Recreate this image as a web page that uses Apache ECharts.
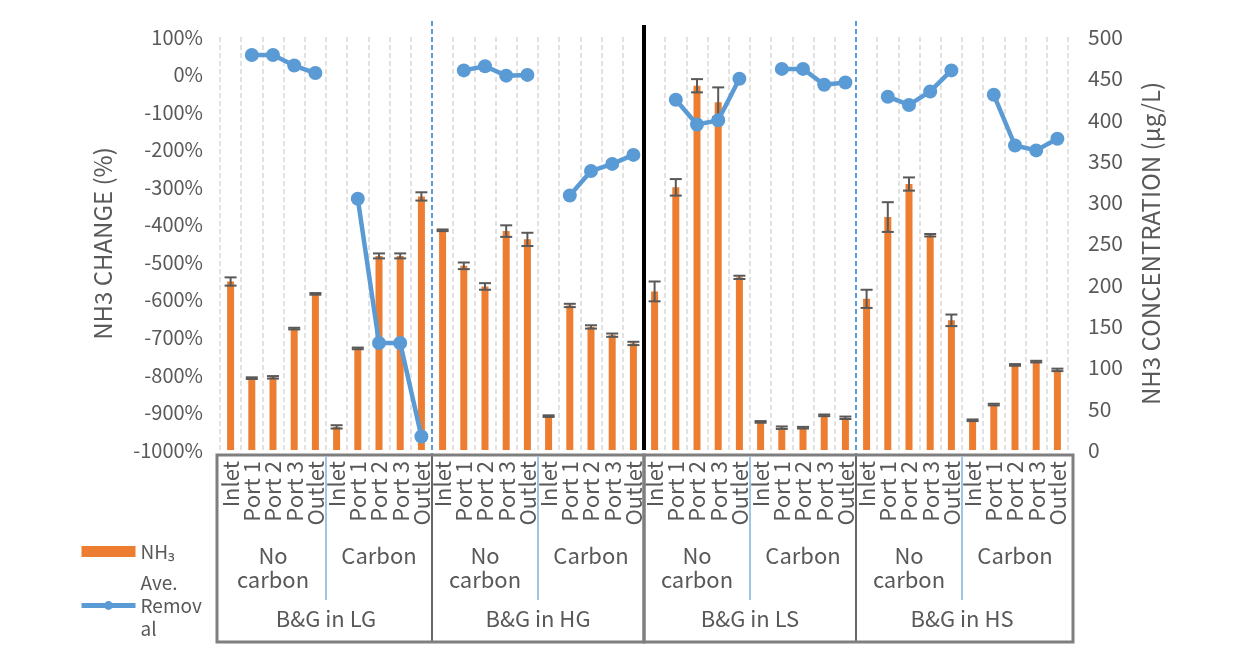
<!DOCTYPE html>
<html>
<head>
<meta charset="utf-8">
<title>NH3 change</title>
<script src="https://cdn.jsdelivr.net/npm/echarts@6/dist/echarts.min.js"></script>
<style>
  html, body { margin: 0; padding: 0; background: #fff; }
  #chart { width: 1250px; height: 672px; }
</style>
</head>
<body>
<div id="chart"></div>
<script>
// 采样点 / 处理 / 组
const ports = ['Inlet', 'Port 1', 'Port 2', 'Port 3', 'Outlet'];
const treatments = ['No\ncarbon', 'Carbon'];
const groups = ['B&G in LG', 'B&G in HG', 'B&G in LS', 'B&G in HS'];

// 40 个类目 = 4 组 x 2 处理 x 5 采样点
const categories = [];
const subLabels = [];
groups.forEach(() => treatments.forEach(t => { subLabels.push(t); ports.forEach(p => categories.push(p)); }));

// NH3 浓度 (μg/L)，右轴
const nh3 = [
  204, 87, 88, 147, 189,   28, 123, 235, 235, 307,
  266, 223, 198, 265, 255,  41, 175, 149, 139, 129,
  192, 318, 441, 421, 209,  34, 27, 27, 42, 39,
  183, 282, 322, 260, 157,  36, 55, 103, 107, 97
];
// 误差
const nh3Err = [
  5, 1, 1.5, 1, 1,   2, 1, 3, 3, 5,
  1, 4, 4, 7, 8,     1, 2, 2, 2, 2,
  12, 10, 8, 18, 2,  1, 1.5, 1, 1, 1.5,
  11, 18, 8, 1.5, 7, 1, 1, 1, 1, 1.5
];
// 平均去除率 (%)，左轴，Inlet 没有值
const removal = [
  null, 52, 52, 24, 4,       null, -331, -715, -715, -964,
  null, 11, 22, -3, -1,      null, -322, -257, -238, -214,
  null, -67, -133, -122, -11, null, 15, 15, -27, -21,
  null, -59, -81, -45, 11,   null, -54, -189, -202, -171
];

// 轴刻度
const pctAxis = { min: -1000, max: 100, step: 100 };
const concAxis = { min: 0, max: 500, step: 50 };

const font = "'Noto Sans CJK SC', 'Noto Sans', sans-serif";
const grey = '#595959';

let chart = echarts.init(document.getElementById('chart'));

chart.setOption({
  animation: false,
  textStyle: { fontFamily: font },
  grid: { left: 220, right: 182, top: 37, bottom: 222 },
  legend: {
    orient: 'vertical',
    left: 79,
    top: 540,
    padding: 0,
    itemGap: 8,
    itemWidth: 54,
    itemHeight: 11,
    lineStyle: { width: 5 },
    textStyle: { color: grey, fontSize: 19, lineHeight: 23, fontFamily: font },
    formatter: name => name === 'Ave. Removal' ? 'Ave.\nRemov\nal' : name,
    data: [{ name: 'NH₃', icon: 'rect' }, { name: 'Ave. Removal' }]
  },
  xAxis: [
    {
      type: 'category',
      data: categories,
      position: 'bottom',
      axisLine: { show: false },
      axisTick: { show: false },
      axisLabel: { interval: 0, rotate: 90, margin: 11, color: grey, fontSize: 22, fontFamily: font },
      splitLine: { show: true, interval: 0, lineStyle: { color: '#D9D9D9', width: 1.5, type: [5, 3] } }
    },
    {
      type: 'category',
      data: subLabels,
      position: 'bottom',
      offset: 86,
      axisLine: { show: false },
      axisTick: { show: false },
      axisLabel: { interval: 0, margin: 8, color: grey, fontSize: 22, lineHeight: 24, fontFamily: font }
    },
    {
      type: 'category',
      data: groups,
      position: 'bottom',
      offset: 149,
      axisLine: { show: false },
      axisTick: { show: false },
      axisLabel: { interval: 0, margin: 8, color: grey, fontSize: 22, lineHeight: 24, fontFamily: font }
    },
    // 隐藏的数值轴，用来定位分隔线
    { type: 'value', min: 0, max: categories.length, show: false }
  ],
  yAxis: [
    {
      type: 'value',
      min: pctAxis.min, max: pctAxis.max, interval: pctAxis.step,
      name: 'NH3 CHANGE (%)',
      nameLocation: 'middle',
      nameGap: 105,
      nameTextStyle: { color: grey, fontSize: 24, fontFamily: font },
      axisLine: { show: false },
      axisTick: { show: false },
      splitLine: { show: false },
      axisLabel: { formatter: v => v + '%', margin: 17, color: grey, fontSize: 20, fontFamily: font }
    },
    {
      type: 'value',
      position: 'right',
      min: concAxis.min, max: concAxis.max, interval: concAxis.step,
      name: 'NH3 CONCENTRATION (μg/L)',
      nameLocation: 'middle',
      nameGap: 71,
      nameTextStyle: { color: grey, fontSize: 24, fontFamily: font },
      axisLine: { show: false },
      axisTick: { show: false },
      splitLine: { show: false },
      axisLabel: { margin: 20, color: grey, fontSize: 21, fontFamily: font }
    }
  ],
  series: [
    {
      name: 'NH₃',
      type: 'bar',
      xAxisIndex: 0,
      yAxisIndex: 1,
      barWidth: 7,
      itemStyle: { color: '#ED7D31' },
      data: nh3
    },
    {
      name: 'err',
      type: 'custom',
      xAxisIndex: 0,
      yAxisIndex: 1,
      z: 3,
      encode: { x: 0, y: 1 },
      renderItem: (params, api) => {
        const i = api.value(0), v = api.value(1), e = api.value(2);
        const hi = api.coord([i, v + e]);
        const lo = api.coord([i, v - e]);
        const w = 6;
        const st = { stroke: '#595959', lineWidth: 2 };
        return {
          type: 'group',
          children: [
            { type: 'line', shape: { x1: hi[0], y1: hi[1], x2: lo[0], y2: lo[1] }, style: st },
            { type: 'line', shape: { x1: hi[0] - w, y1: hi[1], x2: hi[0] + w, y2: hi[1] }, style: st },
            { type: 'line', shape: { x1: lo[0] - w, y1: lo[1], x2: lo[0] + w, y2: lo[1] }, style: st }
          ]
        };
      },
      data: nh3.map((v, i) => [i, v, nh3Err[i]])
    },
    {
      name: 'Ave. Removal',
      type: 'line',
      xAxisIndex: 0,
      yAxisIndex: 0,
      z: 5,
      symbol: 'circle',
      symbolSize: 14,
      connectNulls: false,
      itemStyle: { color: '#5B9BD5' },
      lineStyle: { color: '#5B9BD5', width: 4.5 },
      data: removal
    }
  ]
});

// 分隔线和类目框
const bx = k => chart.convertToPixel({ xAxisIndex: 3 }, k);
const yTop = chart.convertToPixel({ yAxisIndex: 0 }, pctAxis.max);
const yBase = chart.convertToPixel({ yAxisIndex: 0 }, pctAxis.min);
const boxTop = yBase + 5, boxBot = yBase + 192;
let g = [];
[10, 30].forEach(k => {
  g.push({ type: 'line', z: 10, shape: { x1: bx(k), y1: yTop - 16, x2: bx(k), y2: boxTop }, style: { stroke: '#5B9BD5', lineWidth: 2, lineDash: [5, 3] } });
  g.push({ type: 'line', z: 10, shape: { x1: bx(k), y1: boxTop, x2: bx(k), y2: boxBot }, style: { stroke: '#000', lineWidth: 1.2 } });
});
g.push({ type: 'line', z: 10, shape: { x1: bx(20), y1: yTop - 12, x2: bx(20), y2: yBase }, style: { stroke: '#000', lineWidth: 4 } });
[5, 15, 25, 35].forEach(k => {
  g.push({ type: 'line', z: 10, shape: { x1: bx(k), y1: boxTop + 2, x2: bx(k), y2: boxBot - 42 }, style: { stroke: '#7FB2E0', lineWidth: 1.5 } });
});
g.push({ type: 'rect', z: 10, shape: { x: bx(0) - 3, y: boxTop, width: bx(20) - bx(0) + 3, height: boxBot - boxTop }, style: { fill: 'none', stroke: '#7F7F7F', lineWidth: 3 } });
g.push({ type: 'rect', z: 10, shape: { x: bx(20), y: boxTop, width: bx(40) - bx(20) + 5, height: boxBot - boxTop }, style: { fill: 'none', stroke: '#7F7F7F', lineWidth: 3 } });
chart.setOption({ graphic: g });
</script>
</body>
</html>
